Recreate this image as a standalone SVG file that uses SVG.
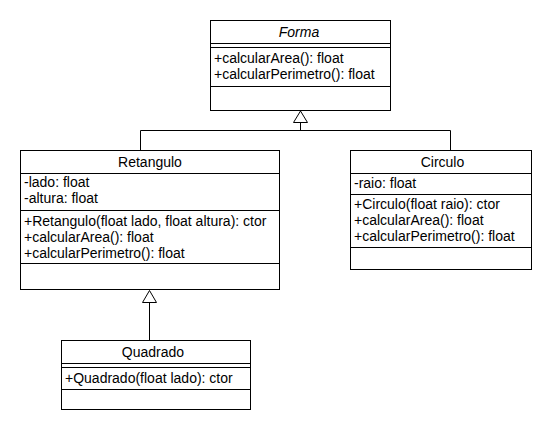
<svg xmlns="http://www.w3.org/2000/svg" width="550" height="430" viewBox="0 0 550 430">
<style>
.box{fill:#fff;stroke:#000;stroke-width:1}
.sep{stroke:#000;stroke-width:1;fill:none}
text{font-family:"Liberation Sans",Arial,sans-serif;font-size:14px;fill:#000}
.t{text-anchor:middle}
.i{font-style:italic}
.c{stroke:#000;stroke-width:1;fill:none}
.tri{fill:#fff;stroke:#000;stroke-width:1}
</style>
<rect width="550" height="430" fill="#fff"/>
<g id="connectors">
<polyline class="c" points="140.5,150.5 140.5,130.5 450.5,130.5 450.5,150.5"/>
<line class="c" x1="300.5" y1="122.5" x2="300.5" y2="130.5"/>
<polygon class="tri" points="300.5,111 293.5,122.5 307.5,122.5"/>
<line class="c" x1="149.5" y1="302.5" x2="149.5" y2="340.5"/>
<polygon class="tri" points="149.5,290.5 142.5,302.5 156.5,302.5"/>
</g>
<g id="Forma">
<rect class="box" x="210.5" y="20.5" width="180" height="90"/>
<line class="sep" x1="210.5" y1="43.5" x2="390.5" y2="43.5"/>
<line class="sep" x1="210.5" y1="47.5" x2="390.5" y2="47.5"/>
<line class="sep" x1="210.5" y1="86.5" x2="390.5" y2="86.5"/>
<text class="t i" x="299" y="37">Forma</text>
<text x="214" y="63">+calcularArea(): float</text>
<text x="214" y="79">+calcularPerimetro(): float</text>
</g>
<g id="Retangulo">
<rect class="box" x="20.5" y="150.5" width="259" height="139"/>
<line class="sep" x1="20.5" y1="173.5" x2="279.5" y2="173.5"/>
<line class="sep" x1="20.5" y1="210.5" x2="279.5" y2="210.5"/>
<line class="sep" x1="20.5" y1="263.5" x2="279.5" y2="263.5"/>
<text class="t" x="150" y="167">Retangulo</text>
<text x="24" y="187">-lado: float</text>
<text x="24" y="203">-altura: float</text>
<text x="24" y="226">+Retangulo(float lado, float altura): ctor</text>
<text x="24" y="242">+calcularArea(): float</text>
<text x="24" y="258">+calcularPerimetro(): float</text>
</g>
<g id="Circulo">
<rect class="box" x="350.5" y="150.5" width="181" height="119"/>
<line class="sep" x1="350.5" y1="173.5" x2="531.5" y2="173.5"/>
<line class="sep" x1="350.5" y1="194.5" x2="531.5" y2="194.5"/>
<line class="sep" x1="350.5" y1="247.5" x2="531.5" y2="247.5"/>
<text class="t" x="442.5" y="167">Circulo</text>
<text x="354" y="188">-raio: float</text>
<text x="354" y="209">+Circulo(float raio): ctor</text>
<text x="354" y="225">+calcularArea(): float</text>
<text x="354" y="241">+calcularPerimetro(): float</text>
</g>
<g id="Quadrado">
<rect class="box" x="61.5" y="340.5" width="189" height="69"/>
<line class="sep" x1="61.5" y1="363.5" x2="250.5" y2="363.5"/>
<line class="sep" x1="61.5" y1="367.5" x2="250.5" y2="367.5"/>
<line class="sep" x1="61.5" y1="389.5" x2="250.5" y2="389.5"/>
<text class="t" x="153" y="357">Quadrado</text>
<text x="65" y="383">+Quadrado(float lado): ctor</text>
</g>
</svg>
